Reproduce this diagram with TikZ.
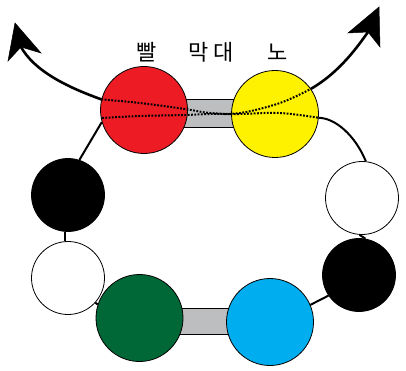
\documentclass[tikz,border=0pt]{standalone}
\usepackage{fontspec}
\newfontfamily\kr{Noto Sans CJK KR}
\definecolor{cred}{RGB}{237,28,36}
\definecolor{cyellow}{RGB}{255,242,0}
\definecolor{cgreen}{RGB}{0,104,55}
\definecolor{cblue}{RGB}{0,174,239}
\definecolor{cgrey}{RGB}{188,190,192}
\tikzset{
  ball/.style={circle, draw=black, line width=0.8pt, inner sep=0pt},
  big/.style={ball, minimum size=87pt},
  small/.style={ball, minimum size=73pt},
  bar/.style={rectangle, draw=black, line width=0.8pt, fill=cgrey, inner sep=0pt},
  link/.style={line width=2pt, black},
  arr/.style={line width=2.6pt, black},
  head/.style={fill=black, draw=black, line width=0.5pt, line join=miter},
  strand/.style={line width=2pt, black, dash pattern=on 1.8pt off 1.5pt},
  lbl/.style={font=\kr\fontsize{22}{22}\selectfont, inner sep=0pt}
}
\begin{document}
\begin{tikzpicture}[x=1pt,y=-1pt]
\useasboundingbox (0,0) rectangle (406,371);
% bars
\node[bar, minimum width=60pt, minimum height=28pt] (bartop) at (210,113) {};
\node[bar, minimum width=60pt, minimum height=26pt] (barbot) at (205,321) {};
% balls
\node[big, fill=cred] (red) at (144,110) {};
\node[big, fill=cyellow] (yellow) at (275,114) {};
\node[small, fill=black] (blackL) at (68,195) {};
\node[small, fill=white] (whiteL) at (68,278) {};
\node[big, fill=cgreen] (green) at (139.5,318) {};
\node[big, fill=cblue] (blue) at (270,322) {};
\node[small, fill=white] (whiteR) at (362,198) {};
\node[small, fill=black] (blackR) at (359,275) {};
% connectors
\draw[link] (red.196) -- (blackL.72);
\draw[link] (blackL.265) -- (whiteL.95);
\draw[link] (whiteL.318) -- (green.162);
\draw[link] (blue.23) -- (blackR.214);
\draw[link] (blackR.80) -- (whiteR.266);
\draw[link] (yellow.355) .. controls (335,118) and (355,135) .. (whiteR.84);
% arrows
\coordinate (notchL) at (21,47);
\coordinate (notchR) at (368,32);
\draw[arr] (red.166) .. controls (64,86) and (34,70) .. (notchL);
\draw[arr] (yellow.35) .. controls (340,72) and (358,46) .. (notchR);
\fill[head] (15,23) -- (8,61) -- (notchL) -- (41,53) -- cycle;
\fill[head] (379,7) -- (348,33) -- (notchR) -- (380,47) -- cycle;
% strands through
\draw[strand] plot[smooth, tension=0.6] coordinates {(red.166) (140,103) (185,109) (210,113) (240,113) (280,103) (yellow.35)};
\draw[strand] plot[smooth, tension=0.6] coordinates {(102,118) (140,116) (185,115) (210,114) (240,114) (280,113) (yellow.355)};
% labels
\node[lbl] (t1) at (146.5,52) {빨};
\node[lbl] (t2) at (199,52) {막};
\node[lbl] (t2b) at (224,52) {대};
\node[lbl] (t3) at (278,52) {노};
\end{tikzpicture}
\end{document}
